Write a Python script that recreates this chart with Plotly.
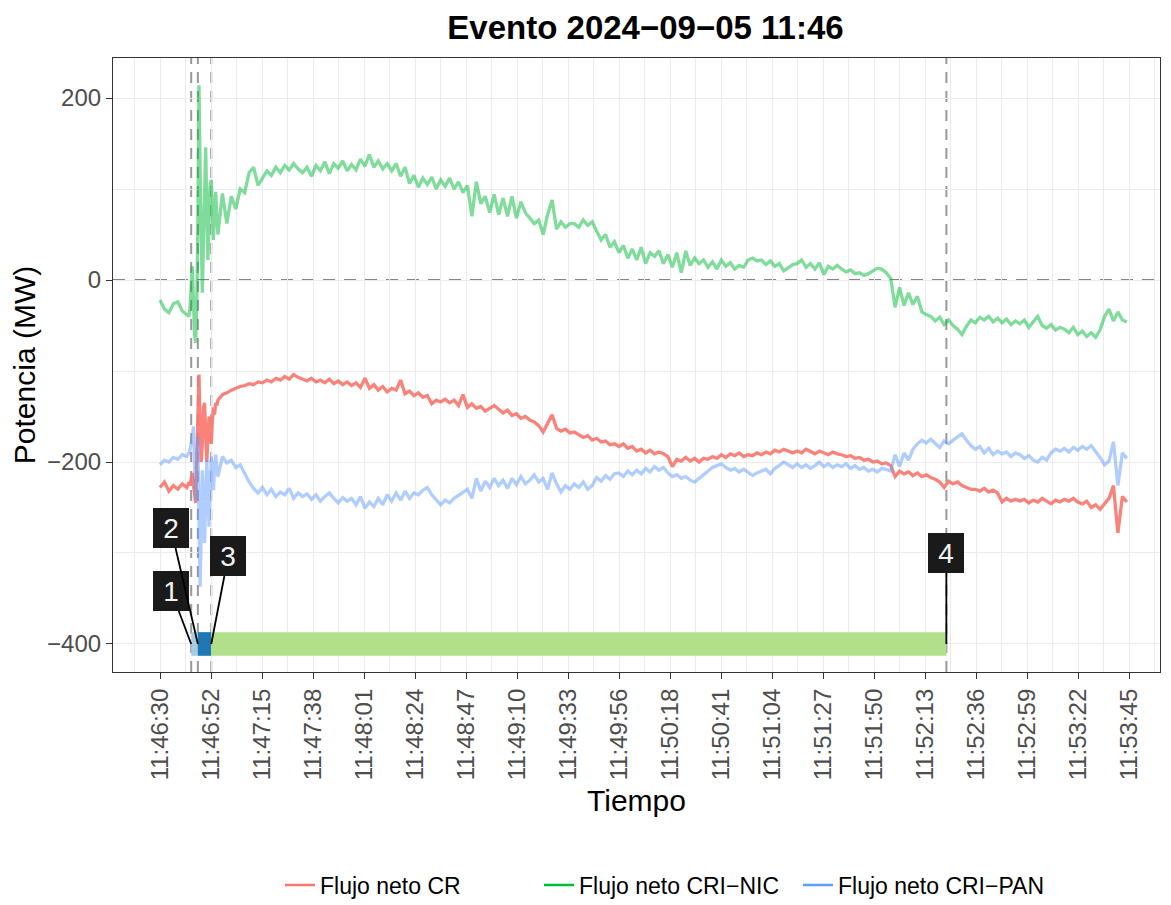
import pandas as pd
import plotly.graph_objects as go

# ---------------- data ----------------
T0 = pd.Timestamp("2024-09-05 11:46:30")
T_END = pd.Timestamp("2024-09-05 11:53:45")

series_names = ["Flujo neto CR", "Flujo neto CRI−NIC", "Flujo neto CRI−PAN"]
series_colors = ["#F8766D", "#00BA38", "#619CFF"]
series_alpha = [0.9, 0.5, 0.5]

# sampled values: pre-event (every 2 s from 0 s), event window (every 0.5 s from 13 s),
# post-event (every 2 s from 26 s)
cr_pre = [-228, -222, -232, -226, -230, -224, -228]
cr_evt = [-222, -226, -218, -212, -225, -240, -245, -200, -150, -104, -160, -200, -180,
          -140, -135, -170, -200, -175, -150, -165, -180, -155, -140, -148, -135, -138]
cr_post = [
    -132, -126, -124, -121, -119, -117, -116, -114, -115, -112,
    -113, -110, -112, -108, -110, -106, -109, -104, -107, -109,
    -111, -108, -112, -110, -113, -109, -114, -111, -115, -112,
    -116, -113, -118, -108, -119, -115, -121, -117, -123, -119,
    -121, -110, -125, -122, -127, -124, -129, -127, -136, -132,
    -134, -131, -135, -132, -138, -126, -140, -136, -141, -139,
    -144, -141, -138, -142, -146, -143, -149, -147, -152, -150,
    -154, -156, -160, -167, -158, -148, -163, -166, -164, -168,
    -167, -170, -173, -171, -176, -174, -178, -177, -181, -180,
    -183, -180, -185, -183, -188, -186, -190, -187, -191, -189,
    -191, -194, -205, -197, -199, -195, -199, -196, -200, -196,
    -197, -194, -196, -192, -195, -191, -193, -190, -194, -192,
    -193, -190, -192, -189, -191, -187, -189, -186, -188, -190,
    -188, -190, -186, -189, -191, -188, -190, -192, -189, -191,
    -192, -194, -193, -196, -195, -198, -197, -200, -199, -202,
    -201, -204, -216, -210, -213, -211, -215, -212, -216, -214,
    -217, -219, -222, -228, -221, -224, -222, -226, -228, -230,
    -230, -232, -229, -233, -231, -234, -244, -240, -243, -241,
    -243, -241, -245, -242, -244, -240, -243, -246, -242, -244,
    -241, -243, -240, -244, -246, -243, -250, -247, -252, -246,
    -240, -226, -278, -238, -244,
]

nic_pre = [-22, -32, -36, -26, -24, -34, -38]
nic_evt = [-40, -30, -10, 15, -20, -60, -69, -30, 60, 214, 120, 30, -14,
           40, 110, 146, 80, 22, 60, 105, 110, 70, 44, 80, 97, 70]
nic_post = [
    50, 95, 62, 92, 78, 100, 96, 118, 124, 104,
    112, 120, 115, 124, 118, 126, 121, 128, 122, 118,
    124, 114, 126, 120, 130, 117, 128, 123, 131, 120,
    127, 121, 133, 125, 138, 124, 131, 122, 128, 120,
    128, 114, 124, 106, 115, 102, 112, 105, 113, 100,
    110, 103, 112, 100, 108, 96, 104, 70, 108, 84,
    92, 74, 94, 72, 90, 70, 92, 68, 86, 74,
    68, 62, 66, 50, 72, 88, 56, 64, 58, 62,
    62, 58, 66, 60, 64, 54, 44, 50, 36, 42,
    30, 38, 24, 34, 22, 36, 18, 30, 26, 32,
    18, 28, 14, 30, 8, 32, 16, 24, 18, 22,
    14, 20, 12, 22, 15, 19, 12, 16, 14, 22,
    24, 21, 22, 17, 21, 15, 18, 10, 14, 17,
    18, 22, 14, 18, 12, 19, 6, 15, 12, 16,
    12, 9, 11, 7, 8, 5, 7, 10, 13, 12,
    8, 2, -30, -8, -28, -14, -27, -18, -35, -38,
    -40, -45, -41, -49, -44, -50, -54, -60, -51, -44,
    -47, -41, -44, -40, -46, -42, -47, -43, -49, -45,
    -48, -44, -52, -46, -40, -50, -53, -49, -55, -52,
    -54, -58, -52, -60, -56, -62, -58, -63, -55, -40,
    -32, -45, -35, -44, -46,
]

pan_pre = [-203, -198, -200, -195, -197, -192, -194]
pan_evt = [-190, -186, -180, -172, -161, -200, -242, -205, -172, -260, -337, -280, -209,
           -250, -289, -240, -198, -230, -271, -225, -194, -215, -231, -205, -192, -205]
pan_post = [
    -216, -194, -201, -198, -206, -203, -212, -222, -229, -234,
    -228, -236, -230, -238, -233, -236, -229, -240, -234, -238,
    -235, -241, -236, -243, -238, -234, -240, -245, -239, -243,
    -240, -247, -238, -251, -244, -249, -240, -247, -236, -243,
    -234, -242, -232, -240, -234, -236, -231, -228, -236, -242,
    -247, -242, -245, -240, -237, -234, -230, -240, -218, -232,
    -221, -228, -218, -226, -220, -229, -218, -225, -216, -224,
    -220, -214, -222, -218, -230, -212, -224, -233, -226, -230,
    -224, -228, -222, -230, -226, -217, -221, -215, -219, -213,
    -212, -216, -210, -214, -209, -213, -207, -211, -205, -209,
    -206, -212, -216, -214, -218, -216, -220, -222, -218, -214,
    -210, -206, -204, -202, -206, -209, -207, -211, -208, -212,
    -215, -212, -210, -208, -213, -207, -204, -200, -203, -206,
    -202, -206, -203, -207, -204, -200, -205, -202, -206, -203,
    -205, -202, -207, -204, -208, -206, -210, -208, -211, -207,
    -208, -210, -192, -205, -190, -198, -186, -180, -176, -179,
    -175, -179, -184, -177, -180, -176, -173, -169, -176, -182,
    -186, -183, -190, -185, -192, -188, -191, -189, -194, -190,
    -192, -196, -193, -198, -200, -195, -198, -190, -186, -188,
    -185, -189, -184, -187, -183, -186, -182, -188, -195, -203,
    -199, -178, -226, -190, -196,
]

# events (vertical dashed lines, numbered labels) and bottom phase segments
event_times = ["2024-09-05 11:46:44", "2024-09-05 11:46:47",
               "2024-09-05 11:46:53", "2024-09-05 11:52:23"]
event_labels = ["1", "2", "3", "4"]
phase_colors = ["#A6CEE3", "#1F78B4", "#B2DF8A"]
phase_level = -400

tick_labels = ["11:46:30", "11:46:52", "11:47:15", "11:47:38", "11:48:01", "11:48:24",
               "11:48:47", "11:49:10", "11:49:33", "11:49:56", "11:50:18", "11:50:41",
               "11:51:04", "11:51:27", "11:51:50", "11:52:13", "11:52:36", "11:52:59",
               "11:53:22", "11:53:45"]
y_ticks = [-400, -200, 0, 200]
y_minor = [-300, -100, 100]


# ---------------- helpers ----------------
def sample_secs(pre, evt, post):
    # seconds elapsed since T0 for each sample
    return ([2.0 * i for i in range(len(pre))]
            + [13.0 + 0.5 * i for i in range(len(evt))]
            + [26.0 + 2.0 * i for i in range(len(post))])


def rgba(hex_color, a):
    h = hex_color.lstrip("#")
    r, g, b = int(h[0:2], 16), int(h[2:4], 16), int(h[4:6], 16)
    return f"rgba({r},{g},{b},{a})"


FONT = "Liberation Sans, Arial, Helvetica, sans-serif"
series_data = [(cr_pre, cr_evt, cr_post), (nic_pre, nic_evt, nic_post), (pan_pre, pan_evt, pan_post)]

fig = go.Figure()
for name, col, a, (pre, evt, post) in zip(series_names, series_colors, series_alpha, series_data):
    fig.add_trace(go.Scatter(
        x=sample_secs(pre, evt, post), y=pre + evt + post, mode="lines",
        line=dict(color=rgba(col, a), width=3.3), name=name, showlegend=False,
        hoverinfo="skip"))
# legend keys at full colour
for name, col in zip(series_names, series_colors):
    fig.add_trace(go.Scatter(x=[None], y=[None], mode="lines",
                             line=dict(color=col, width=2.5), name=name, showlegend=True))

# x axis in seconds since T0, labelled with clock times
total = (T_END - T0).total_seconds()
step = total / (len(tick_labels) - 1)
tick_vals = [k * step for k in range(len(tick_labels))]
minor_vals = [-step / 2] + [v + step / 2 for v in tick_vals]
event_secs = [(pd.Timestamp(e) - T0).total_seconds() for e in event_times]

x_lo, x_hi = -21.1, total + 13.9

shapes = []
shapes.append(dict(type="line", xref="paper", yref="y", x0=0, x1=1, y0=0, y1=0,
                   line=dict(color="rgba(110,110,110,0.85)", width=2, dash="12px,9px"),
                   layer="between"))
for es in event_secs:
    shapes.append(dict(type="line", xref="x", yref="paper", x0=es, x1=es, y0=0, y1=1,
                       line=dict(color="rgba(110,110,110,0.7)", width=2, dash="11px,8px"),
                       layer="between"))
half = 13
for i, c in enumerate(phase_colors):
    shapes.append(dict(type="rect", xref="x", yref="y",
                       x0=event_secs[i], x1=event_secs[i + 1],
                       y0=phase_level - half, y1=phase_level + half,
                       fillcolor=c, line=dict(width=0), layer="above"))

offsets = [(-20, -53), (-27, -116), (17, -88), (0, -91)]
annotations = []
for es, lab, (ax, ay) in zip(event_secs, event_labels, offsets):
    annotations.append(dict(
        x=es, y=phase_level, xref="x", yref="y", text=lab,
        showarrow=True, arrowhead=0, arrowwidth=1.8, arrowcolor="black",
        ax=ax, ay=ay, standoff=0, startstandoff=0,
        bgcolor="#1A1A1A", borderpad=3, borderwidth=0, width=30, height=34,
        font=dict(size=28, color="#F2F2F2", family=FONT)))

axis_common = dict(
    showline=True, mirror=True, linecolor="#333333", linewidth=1.2,
    ticks="outside", ticklen=6, tickwidth=1.2, tickcolor="#333333",
    showgrid=True, gridcolor="#EBEBEB", gridwidth=1.4, zeroline=False,
    tickfont=dict(size=24, color="#4D4D4D"), automargin=False,
)

# the page body adds an 8 px offset; the figure is sized to fill the rest of the window
fig.update_layout(
    width=1163, height=897,
    margin=dict(l=105, r=11, t=50, b=233, autoexpand=False),
    paper_bgcolor="white", plot_bgcolor="white",
    font=dict(family=FONT, color="black"),
    title=dict(text="Evento 2024−09−05 11:46", x=0.5086, xref="paper", xanchor="center",
               y=1 - 19.5 / 897, yref="container", yanchor="middle",
               font=dict(size=33, weight="bold", color="black")),
    legend=dict(orientation="h", x=(280 - 113) / 1047, xanchor="left", y=-0.347,
                yanchor="middle", font=dict(size=23), bgcolor="rgba(0,0,0,0)",
                entrywidthmode="pixels", entrywidth=214, borderwidth=0),
    shapes=shapes, annotations=annotations,
    xaxis=dict(range=[x_lo, x_hi], tickmode="array", tickvals=tick_vals,
               ticktext=tick_labels, tickangle=-90,
               minor=dict(tickmode="array", tickvals=minor_vals, showgrid=True,
                          gridcolor="#EBEBEB", gridwidth=0.7, ticks=""),
               title=dict(text="Tiempo", font=dict(size=30), standoff=10),
               **axis_common),
    yaxis=dict(range=[-430.8, 244], tickmode="array", tickvals=y_ticks,
               minor=dict(tickmode="array", tickvals=y_minor, showgrid=True,
                          gridcolor="#EBEBEB", gridwidth=0.7, ticks=""),
               title=dict(text="Potencia (MW)", font=dict(size=30), standoff=2),
               **axis_common),
)

fig.write_html("out.html")
